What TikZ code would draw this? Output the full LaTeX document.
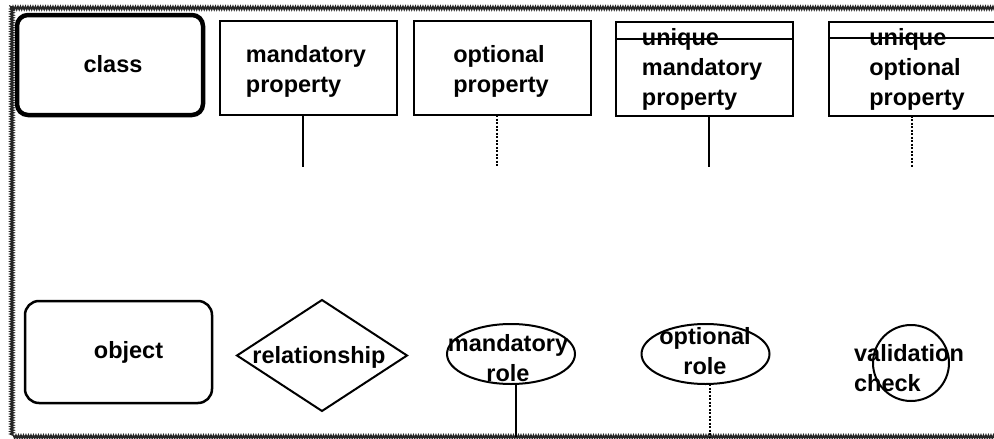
\documentclass[tikz,border=0pt]{standalone}
\usepackage{fontspec}
\newfontfamily\dfont{Liberation Sans}
\usetikzlibrary{shapes.geometric,decorations.pathmorphing}
\begin{document}
\begin{tikzpicture}[x=1pt,y=-1pt,
  every node/.style={inner sep=0pt, outer sep=0pt},
  txt/.style={font={\dfont\bfseries\fontsize{23.5}{30}\selectfont}, align=left},
  ctxt/.style={font={\dfont\bfseries\fontsize{23.5}{30}\selectfont}, align=center},
  classbox/.style={draw, line width=4.5pt, rounded corners=11pt, minimum width=186pt, minimum height=100pt},
  propbox/.style={draw, line width=2pt, minimum width=177pt, minimum height=94pt},
  objbox/.style={draw, line width=2.5pt, rounded corners=14pt, minimum width=187pt, minimum height=102pt, font={\dfont\bfseries\fontsize{23.5}{30}\selectfont}},
  relbox/.style={draw, diamond, line width=2pt, minimum width=170pt, minimum height=111pt},
  rolebox/.style={draw, ellipse, line width=2pt, minimum width=128pt, minimum height=60pt},
  checkbox/.style={draw, circle, line width=2pt, minimum size=76pt},
  solidlink/.style={line width=2pt},
  dottedlink/.style={line width=1.8pt, dash pattern=on 2pt off 1.5pt},
  frame/.style={draw=black!85, line width=1.6pt, decorate, decoration={snake, segment length=2.5pt, amplitude=1.5pt}}
]
\useasboundingbox (0,0) rectangle (994,439);
\clip (0,0) rectangle (994,439);
\fill[white] (0,0) rectangle (994,439);

% frame
\draw[frame] (1010,8) -- (11,8) -- (11,437) -- (1010,437);

% top row
\node[classbox] (cls) at (110,65) {};
\node[txt] (clst) at (113,64) {class};

\node[propbox] (mp) at (308.5,68) {};
\node[txt] (mpt) at (306,71.5) {mandatory\\property};

\node[propbox] (op) at (502,68) {};
\node[txt] (opt) at (501,71.5) {optional\\property};

\node[propbox] (ump) at (704.5,68.5) {};
\node[txt] (umpt) at (702,69) {unique\\mandatory\\property};
\draw[line width=2pt] (ump.west |- 0,39) -- (ump.east |- 0,39);

\node[propbox] (uop) at (917,68.5) {};
\node[txt] (uopt) at (917,69) {unique\\optional\\property};
\draw[line width=2pt] (uop.west |- 0,38) -- (uop.east |- 0,38);

\coordinate (e1) at (303,167);
\coordinate (e2) at (497,167);
\coordinate (e3) at (709,167);
\coordinate (e4) at (912,167);
\draw[solidlink] (mp.south -| e1) -- (e1);
\draw[dottedlink] (op.south -| e2) -- (e2);
\draw[solidlink] (ump.south -| e3) -- (e3);
\draw[dottedlink] (uop.south -| e4) -- (e4);

% bottom row
\node[objbox] (obj) at (118.5,352) {\hspace*{20pt}object};

\node[relbox] (rel) at (322,355.5) {};
\node[txt] (relt) at (319,357) {relationship};

\node[rolebox] (mr) at (511,354) {};
\node[ctxt] (mrt) at (508,358) {mandatory\\role};

\node[rolebox] (or) at (705.5,354) {};
\node[ctxt] (ort) at (705,351.5) {optional\\role};

\node[checkbox] (vc) at (911,363) {};
\node[txt] (vct) at (909,368) {validation\\check};

\coordinate (e5) at (516,437);
\coordinate (e6) at (710,437);
\draw[solidlink] (mr.south -| e5) -- (e5);
\draw[dottedlink] (or.south -| e6) -- (e6);
\end{tikzpicture}
\end{document}
